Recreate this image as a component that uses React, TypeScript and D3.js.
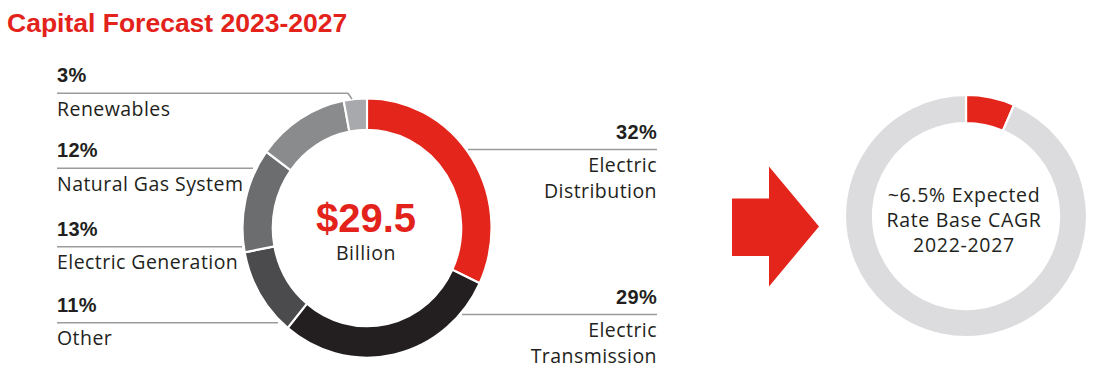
import React from "react";
import * as d3 from "d3";

const title = "Capital Forecast 2023-2027";
const categories = ["Electric Distribution", "Electric Transmission", "Other", "Electric Generation", "Natural Gas System", "Renewables"];
const shares = [32, 29, 11, 13, 12, 3];
const sliceColors = ["#e3251b", "#231f20", "#4b4b4d", "#6c6d6f", "#8a8b8d", "#a8a9ac"];
const labelLines = [["Electric", "Distribution"], ["Electric", "Transmission"], ["Other"], ["Electric Generation"], ["Natural Gas System"], ["Renewables"]];
const totalLabel = "$29.5";
const totalUnit = "Billion";
const cagrValue = 6.5;
const cagrText = ["~6.5% Expected", "Rate Base CAGR", "2022-2027"];

// layout (positions only)
const labelLayout = [
  { side: "right", y: 149.5, x0: 468, x1: 657, bend: null },
  { side: "right", y: 314.5, x0: 462, x1: 657, bend: null },
  { side: "left", y: 322.7, x0: 57, x1: 278, bend: null },
  { side: "left", y: 246.7, x0: 57, x1: 242, bend: null },
  { side: "left", y: 168.3, x0: 57, x1: 253, bend: null },
  { side: "left", y: 93.3, x0: 57, x1: 348, bend: [352, 99] },
];

const FONT = "'Liberation Sans', Arial, Helvetica, sans-serif";
const FONT_REG = "'Open Sans', 'Liberation Sans', sans-serif";
const TEXT = "#231f20";

export default function App() {
  const pie = d3.pie<number>().sort(null).value((d) => d);
  const arcs = pie(shares);
  const R = 129.7;
  const arc = d3.arc<d3.PieArcDatum<number>>().innerRadius(R - 31.5).outerRadius(R);

  const cagrArcs = pie([cagrValue, 100 - cagrValue]);
  const R2 = 121;
  const arc2 = d3.arc<d3.PieArcDatum<number>>().innerRadius(R2 - 28).outerRadius(R2);

  const arrow = d3.line()([
    [732, 198.5], [769, 198.5], [769, 166.5], [819, 226.5], [769, 286.5], [769, 256], [732, 256],
  ]) + "Z";

  return (
    <svg width={1101} height={382} style={{ position: "absolute", left: 0, top: 0, background: "#fff" }} fontFamily={FONT}>
      <text x={7} y={31.5} fontSize={26.5} fontWeight="bold" fill="#e3231b">{title}</text>

      <g transform="translate(367,228) scale(0.96,1)">
        {arcs.map((a, i) => (
          <path key={categories[i]} d={arc(a) || ""} fill={sliceColors[i]} stroke="#fff" strokeWidth={2.2} />
        ))}
      </g>
      <text x={366} y={231.5} textAnchor="middle" fontSize={40} fontWeight="bold" fill="#e3231b">{totalLabel}</text>
      <text x={366} y={260} textAnchor="middle" fontSize={19.5} letterSpacing={0.6} fontFamily={FONT_REG} fill={TEXT}>{totalUnit}</text>

      {labelLayout.map((l, i) => {
        const pct = `${shares[i]}%`;
        const lines = labelLines[i];
        const anchor = l.side === "right" ? "end" : "start";
        const tx = l.side === "right" ? l.x1 : l.x0;
        const pts: [number, number][] = [[l.x0, l.y], [l.x1, l.y]];
        if (l.bend) pts.push(l.bend as [number, number]);
        return (
          <g key={categories[i]}>
            <path d={d3.line()(pts) || ""} fill="none" stroke="#9b9b9b" strokeWidth={1.6} />
            <text x={tx} y={l.y - 11} textAnchor={anchor} fontSize={20} fontWeight="bold" letterSpacing={0.3} fill={TEXT}>{pct}</text>
            {lines.map((t, j) => (
              <text key={t} x={tx} y={l.y + 22.5 + j * 25.7} textAnchor={anchor} fontSize={19.5} letterSpacing={0.45} fontFamily={FONT_REG} fill={TEXT}>{t}</text>
            ))}
          </g>
        );
      })}

      <path d={arrow} fill="#e3251b" />

      <g transform="translate(966,216)">
        {cagrArcs.map((a, i) => (
          <path key={i} d={arc2(a) || ""} fill={i === 0 ? "#e3251b" : "#dcdcde"} stroke="#fff" strokeWidth={2.2} />
        ))}
        {cagrText.map((t, j) => (
          <text key={t} x={-2} y={-14 + j * 25} textAnchor="middle" fontSize={19.5} letterSpacing={0.7} fontFamily={FONT_REG} fill={TEXT}>{t}</text>
        ))}
      </g>
    </svg>
  );
}
